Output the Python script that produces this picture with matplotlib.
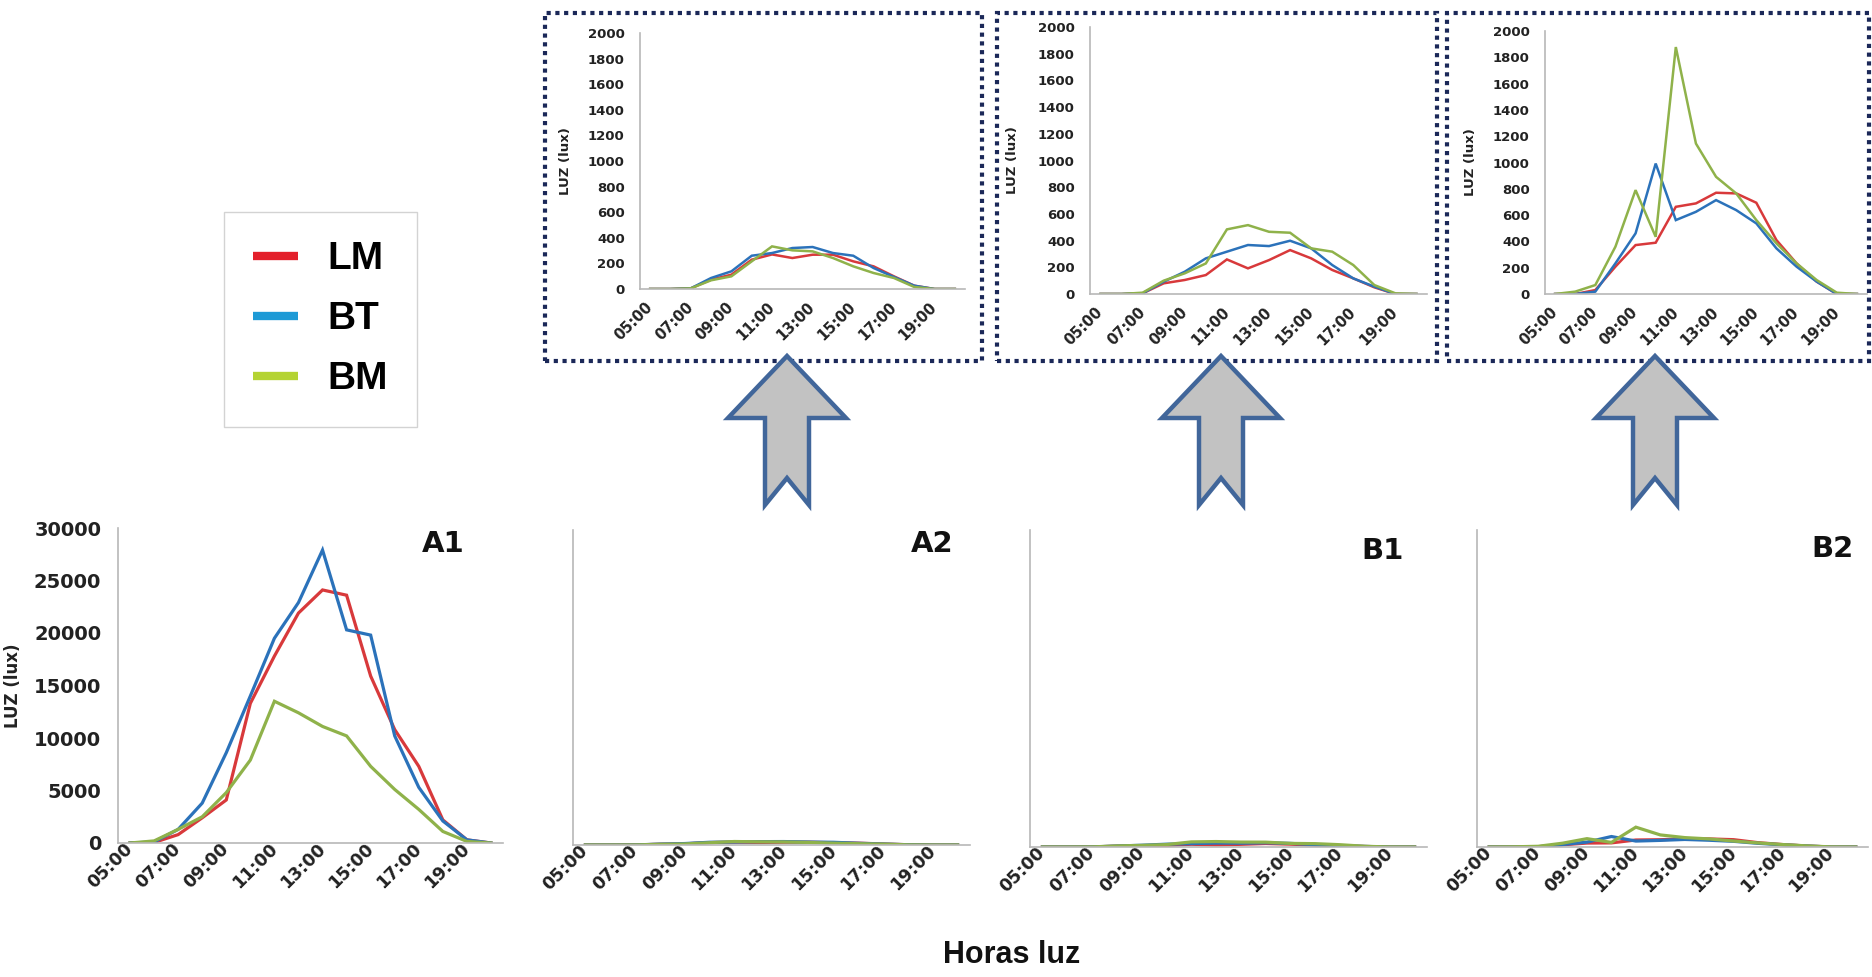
import numpy as np
import matplotlib
matplotlib.use("Agg")
import matplotlib.pyplot as plt
import matplotlib.transforms as mtransforms
from matplotlib.patches import Rectangle, Polygon
from matplotlib.lines import Line2D

# hourly categories
hours = ['05:00', '06:00', '07:00', '08:00', '09:00', '10:00', '11:00', '12:00',
         '13:00', '14:00', '15:00', '16:00', '17:00', '18:00', '19:00', '20:00']
series = ['LM', 'BT', 'BM']

# A1 (open area), lux
a1_lm = [0, 50, 800, 2400, 4100, 13300, 17800, 21900, 24100, 23600, 15900, 10800, 7300, 2200, 300, 0]
a1_bt = [0, 100, 1300, 3800, 8600, 14000, 19500, 22900, 27900, 20300, 19800, 10200, 5300, 2100, 300, 0]
a1_bm = [0, 200, 1300, 2500, 4800, 7900, 13500, 12400, 11100, 10200, 7300, 5100, 3200, 1100, 150, 0]

# A2
a2_lm = [0, 0, 5, 73, 112, 229, 270, 242, 268, 268, 216, 177, 99, 26, 0, 0]
a2_bt = [0, 0, 5, 86, 138, 260, 281, 320, 328, 281, 260, 164, 94, 26, 0, 0]
a2_bm = [0, 0, 5, 68, 99, 216, 333, 302, 294, 242, 177, 125, 86, 16, 0, 0]

# B1
b1_lm = [0, 0, 5, 80, 105, 142, 259, 192, 254, 329, 267, 180, 117, 50, 0, 0]
b1_bt = [0, 0, 5, 92, 167, 267, 317, 367, 359, 399, 342, 217, 117, 55, 0, 0]
b1_bm = [0, 0, 10, 100, 155, 229, 484, 516, 466, 459, 342, 317, 217, 67, 5, 0]

# B2
b2_lm = [0, 0, 30, 208, 372, 390, 663, 689, 770, 765, 694, 410, 233, 94, 0, 0]
b2_bt = [0, 0, 18, 233, 461, 992, 562, 625, 714, 638, 537, 347, 208, 94, 0, 0]
b2_bm = [0, 18, 68, 360, 790, 435, 1878, 1144, 891, 765, 562, 385, 233, 106, 10, 0]

line_colors = {'LM': '#d8393b', 'BT': '#2b72ba', 'BM': '#8fb24a'}
legend_colors = {'LM': '#e3202b', 'BT': '#1e9ad6', 'BM': '#b4d333'}

W, H = 1872, 977
fig = plt.figure(figsize=(W / 100, H / 100), dpi=100)
fig.patch.set_facecolor('white')


def frac(x0, y0, x1, y1):
    # pixel box (top-left origin) -> figure fraction rect
    return [x0 / W, 1 - y1 / H, (x1 - x0) / W, (y1 - y0) / H]


def style_axes(ax, ymax, ystep, show_y, xfs, yfs, xpad, ypad, xshift):
    x = np.arange(len(hours))
    ax.set_xlim(-0.5, len(hours) - 0.5)
    ax.set_ylim(0, ymax)
    ax.set_xticks(x[::2])
    ax.set_xticklabels(hours[::2], rotation=45, ha='right', va='center',
                       rotation_mode='anchor', fontsize=xfs, fontweight='bold',
                       color='#222222')
    shift = mtransforms.ScaledTranslation(xshift / 100, 0, fig.dpi_scale_trans)
    for lab in ax.get_xticklabels():
        lab.set_transform(lab.get_transform() + shift)
    if show_y:
        ticks = np.arange(0, ymax + 1, ystep)
        ax.set_yticks(ticks)
        ax.set_yticklabels([str(v) for v in ticks], fontsize=yfs,
                           fontweight='bold', color='#222222')
    else:
        ax.set_yticks([])
    ax.tick_params(axis='x', length=0, pad=xpad)
    ax.tick_params(axis='y', length=0, pad=ypad)
    for s in ['top', 'right']:
        ax.spines[s].set_visible(False)
    for s in ['left', 'bottom']:
        ax.spines[s].set_color('#b8b8b8')
        ax.spines[s].set_linewidth(1.2)


def draw(ax, lm, bt, bm, lw):
    x = np.arange(len(hours))
    for name, vals in zip(series, [lm, bt, bm]):
        ax.plot(x, vals, color=line_colors[name], lw=lw, solid_joinstyle='miter')


# main panels
main = [
    ('A1', frac(118, 528, 503, 843), (a1_lm, a1_bt, a1_bm), True, (0.845, 0.95)),
    ('A2', frac(573, 530, 970, 845), (a2_lm, a2_bt, a2_bm), False, (0.905, 0.955)),
    ('B1', frac(1030, 530, 1427, 847), (b1_lm, b1_bt, b1_bm), False, (0.889, 0.935)),
    ('B2', frac(1477, 530, 1868, 847), (b2_lm, b2_bt, b2_bm), False, (0.91, 0.94)),
]
for name, rect, data, show_y, lab in main:
    ax = fig.add_axes(rect)
    draw(ax, *data, lw=2.3)
    style_axes(ax, 30000, 5000, show_y, 12.5, 14, 2, 12, 5)
    ax.text(lab[0], lab[1], name, transform=ax.transAxes, ha='center', va='center',
            fontsize=21, fontweight='bold', color='#111111')
    if show_y:
        ax.set_ylabel('LUZ (lux)', fontsize=12, fontweight='bold', color='#222222')
        ax.yaxis.set_label_coords(-0.25, 0.5)

# zoomed insets (0-2000 lux)
insets = [
    (frac(640, 33, 965, 289), (a2_lm, a2_bt, a2_bm), (545, 13, 982, 361)),
    (frac(1090, 27, 1427, 294), (b1_lm, b1_bt, b1_bm), (997, 13, 1437, 361)),
    (frac(1545, 31, 1867, 294), (b2_lm, b2_bt, b2_bm), (1447, 13, 1869, 361)),
]
for rect, data, bx in insets:
    ax = fig.add_axes(rect)
    draw(ax, *data, lw=1.8)
    style_axes(ax, 2000, 200, True, 10.5, 9.5, 11, 11, 3)
    ax.set_ylabel('LUZ (lux)', fontsize=9.5, fontweight='bold', color='#222222')
    ax.yaxis.set_label_coords(-0.21, 0.5)
    x0, y0, x1, y1 = bx
    fig.add_artist(Rectangle((x0 / W, 1 - y1 / H), (x1 - x0) / W, (y1 - y0) / H,
                             transform=fig.transFigure, fill=False,
                             edgecolor='#1b2858', lw=3.0, linestyle=(0, (1.0, 1.1))))

# block arrows pointing to the insets
for cx in [787, 1221, 1655]:
    pts = [(cx, 356), (cx + 59, 418), (cx + 22, 418), (cx + 22, 505), (cx, 478),
           (cx - 22, 505), (cx - 22, 418), (cx - 59, 418)]
    pts = [(px / W, 1 - py / H) for px, py in pts]
    fig.add_artist(Polygon(pts, closed=True, transform=fig.transFigure,
                           facecolor='#c2c2c2', edgecolor='#41669a', lw=3.2,
                           joinstyle='miter', zorder=5))

# legend
handles = [Line2D([0], [0], color=legend_colors[s], lw=6, solid_capstyle='butt') for s in series]
leg = fig.legend(handles, series, loc='upper left', bbox_to_anchor=(224 / W, 1 - 212 / H),
                 borderaxespad=0, frameon=True, fancybox=False, edgecolor='#c8c8c8',
                 handlelength=1.15, handletextpad=0.75, labelspacing=0.62, borderpad=0.75,
                 prop={'family': 'Liberation Sans', 'weight': 'bold', 'size': 28})
leg.get_frame().set_linewidth(1.0)

fig.text(1012 / W, 1 - 955 / H, 'Horas luz', ha='center', va='center',
         fontsize=22, fontweight='bold', family='Liberation Sans', color='#111111')

plt.savefig('out.png', dpi=100, facecolor='white')
